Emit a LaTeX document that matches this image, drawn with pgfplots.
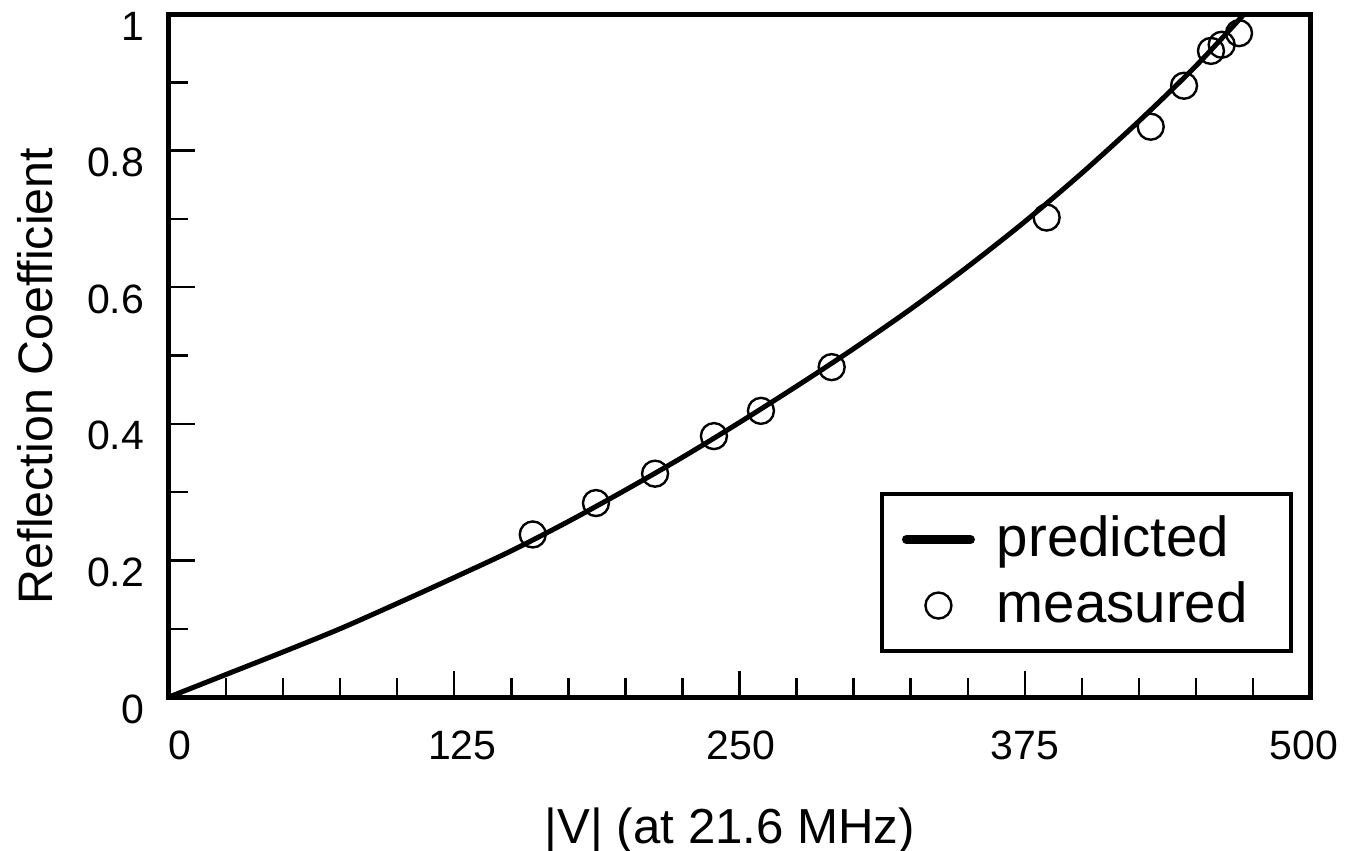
\documentclass[border=0pt]{standalone}
\usepackage{pgfplots}
\pgfplotsset{compat=1.18}
\usepackage{fontspec}
\setmainfont{Liberation Sans}
\begin{document}
\begin{tikzpicture}
\begin{axis}[
  scale only axis,
  width=285.25pt, height=170.75pt,
  xmin=0, xmax=500, ymin=0, ymax=1,
  xtick={0,125,250,375,500},
  xticklabels={\hspace*{5.5pt}0,\hspace*{4pt}125,\hspace*{0.75pt}250,375,500\hspace*{3pt}},
  minor x tick num=4,
  ytick={0,0.2,0.4,0.6,0.8,1},
  yticklabels={0,0.2,0.4,0.6,0.8,1},
  minor y tick num=1,
  xtick pos=bottom, ytick pos=left,
  tick align=inside,
  major tick length=6.5pt, minor tick length=4.75pt,
  every tick/.style={black, line width=0.6pt},
  axis line style={line width=1.25pt},
  /pgf/number format/assume math mode=true,
  tick label style={font=\fontsize{10.25pt}{12pt}\selectfont},
  xticklabel style={inner sep=0pt, anchor=north, yshift=-8.25pt},
  yticklabel style={inner sep=0pt, anchor=east, xshift=-6pt, yshift=-3pt},
  xlabel={|V| (at 21.6 MHz)},
  ylabel={Reflection Coefficient},
  xlabel style={font=\fontsize{12.3pt}{14pt}\selectfont, at={(axis description cs:0.4916,-0.2138)}, anchor=base, inner sep=0pt},
  ylabel style={font=\fontsize{12.1pt}{14pt}\selectfont, at={(axis description cs:-0.1025,0.470)}, anchor=base, rotate=0, inner sep=0pt},
  legend style={at={(axis description cs:0.6231,0.3001)}, anchor=north west,
    draw=black, line width=1pt, fill=white,
    inner xsep=5pt, inner ysep=5pt,
    column sep=5.5pt, row sep=3.75pt,
    font=\fontsize{14.1pt}{17pt}\selectfont,
    nodes={inner sep=0pt, text height=10.5pt, text depth=2.25pt}},
  legend cell align=left,
]
\addplot[black, line width=1.25pt, smooth,
  legend image code/.code={\draw[black, line width=2.25pt, line cap=round] (0pt,0pt) -- (16pt,0pt);}]
  coordinates {
  (0,0) (25,0.033) (50,0.066) (75,0.100) (100,0.137) (125,0.175)
  (150,0.214) (175,0.257) (200,0.303) (225,0.351) (250,0.402)
  (275,0.455) (300,0.510) (325,0.568) (350,0.630) (375,0.696)
  (400,0.767) (425,0.843) (450,0.924) (472,1.003)
  };
\addlegendentry{predicted}
\addplot[only marks, mark=o, mark size=3.25pt, mark options={line width=0.6pt, black},
  legend image code/.code={\draw[black, line width=0.6pt, mark=o, mark size=3.25pt, only marks] plot coordinates {(8pt,0pt)}; \path (0pt,0pt) (16pt,0pt);}]
  coordinates {
  (159.4,0.238) (187.1,0.284) (213.0,0.327) (238.8,0.382) (259.4,0.419)
  (290.4,0.483) (384.6,0.702) (430.2,0.835) (444.8,0.895) (456.6,0.946)
  (461.3,0.955) (468.9,0.972)
  };
\addlegendentry{\makebox[68.5pt][l]{measured}}
\coordinate (sw) at (rel axis cs:0,0);
\coordinate (ne) at (rel axis cs:1,1);
\end{axis}
\pgfresetboundingbox
\path ([shift={(-42.25pt,-38.25pt)}]sw) rectangle ([shift={(12.5pt,3.5pt)}]ne);
\end{tikzpicture}
\end{document}
